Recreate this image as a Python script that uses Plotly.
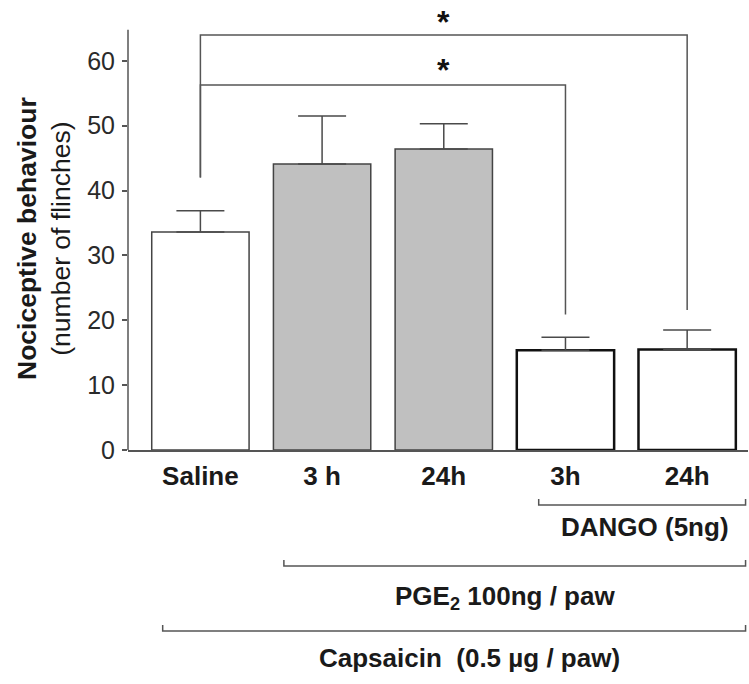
import plotly.graph_objects as go

categories = ["Saline", "3 h", "24h", "3h", "24h"]
means = [33.6, 44.1, 46.4, 15.4, 15.5]
sem = [3.3, 7.4, 3.9, 2.0, 3.0]
fill_colors = ["#ffffff", "#c0c0c0", "#c0c0c0", "#ffffff", "#ffffff"]
line_colors = ["#444444", "#444444", "#444444", "#111111", "#111111"]
line_widths = [1.5, 1.5, 1.5, 2.5, 2.5]
y_ticks = [0, 10, 20, 30, 40, 50, 60]

W, H = 749, 684
ML, MR, MT, MB = 128, 1, 9, 234
PH = H - MT - MB
x_range = [-0.595, 4.5]
y_range = [0, 68]

def py(pix):
    # pixel row -> paper y
    return (H - MB - pix) / PH

xs = list(range(len(categories)))

fig = go.Figure()
fig.add_trace(go.Bar(
    x=xs, y=means, width=0.8,
    marker=dict(color=fill_colors, line=dict(color=line_colors, width=line_widths)),
    error_y=dict(type="data", symmetric=False, array=sem, arrayminus=[0] * len(sem),
                 color="#4a4a4a", thickness=1.5, width=24),
    showlegend=False, hoverinfo="skip",
))

shapes = []
line_style = dict(color="#555555", width=1.5)
# y axis line (stops at ~65)
shapes.append(dict(type="line", xref="paper", yref="y", x0=0, x1=0, y0=0, y1=64.8, line=line_style))

# significance brackets
sig = [
    dict(x0=0, x1=4, top=64.0, left_bottom=42.0, right_bottom=21.6, star_x=2.0, star_y=66.0),
    dict(x0=0, x1=3, top=56.3, left_bottom=42.0, right_bottom=20.9, star_x=2.0, star_y=58.6),
]
annotations = []
for s in sig:
    shapes.append(dict(type="path", xref="x", yref="y",
                       path=f"M {s['x0']},{s['left_bottom']} L {s['x0']},{s['top']} L {s['x1']},{s['top']} L {s['x1']},{s['right_bottom']}",
                       line=line_style))
    annotations.append(dict(x=s["star_x"], y=s["star_y"], xref="x", yref="y",
                            text="<b>*</b>", showarrow=False, font=dict(size=32, color="#111111"),
                            xanchor="center", yanchor="middle"))

# group brackets below the axis
groups = [
    dict(x0=2.78, x1=4.48, ypix=505, label="DANGO (5ng)", lx=3.652, lypix=527),
    dict(x0=0.686, x1=4.48, ypix=566, label="PGE<sub>2</sub> 100ng / paw", lx=2.50, lypix=597),
    dict(x0=-0.31, x1=4.48, ypix=631, label="Capsaicin  (0.5 \u00b5g / paw)", lx=2.214, lypix=658),
]
tick_h = 6 / PH
for g in groups:
    yb = py(g["ypix"])
    shapes.append(dict(type="path", xref="x", yref="paper",
                       path=f"M {g['x0']},{yb + tick_h} L {g['x0']},{yb} L {g['x1']},{yb} L {g['x1']},{yb + tick_h}",
                       line=dict(color="#555555", width=1.5)))
    annotations.append(dict(x=g["lx"], y=py(g["lypix"]), xref="x", yref="paper",
                            text=f"<b>{g['label']}</b>", showarrow=False,
                            font=dict(size=26, color="#1a1a1a"), xanchor="center", yanchor="middle"))

# y axis title
annotations.append(dict(x=(44 - ML) / (W - ML - MR), y=py(238), xref="paper", yref="paper",
                        text="<b>Nociceptive behaviour</b><br>(number of flinches)",
                        textangle=-90, showarrow=False, font=dict(size=26.5, color="#1a1a1a"),
                        xanchor="center", yanchor="middle"))

fig.update_layout(
    width=W, height=H,
    margin=dict(l=ML, r=MR, t=MT, b=MB, pad=0),
    plot_bgcolor="white", paper_bgcolor="white",
    font=dict(family="Liberation Sans, Arial, sans-serif", color="#1a1a1a"),
    shapes=shapes, annotations=annotations,
    xaxis=dict(range=x_range, tickvals=xs, ticktext=[f"<b>{c}</b>" for c in categories],
               showline=True, linecolor="#555555", linewidth=1.5, ticks="", showgrid=False,
               zeroline=False, tickfont=dict(size=26, color="#1a1a1a"), ticklabelstandoff=2),
    yaxis=dict(range=y_range, tickvals=y_ticks, showline=False, ticks="outside", ticklen=5,
               tickwidth=1.5, tickcolor="#555555", showgrid=False, zeroline=False,
               tickfont=dict(size=25, color="#2a2a2a"), ticklabelstandoff=2),
)

fig.write_html("out.html", config={"displayModeBar": False},
               post_script="document.body.style.margin='0';document.body.style.padding='0';")
